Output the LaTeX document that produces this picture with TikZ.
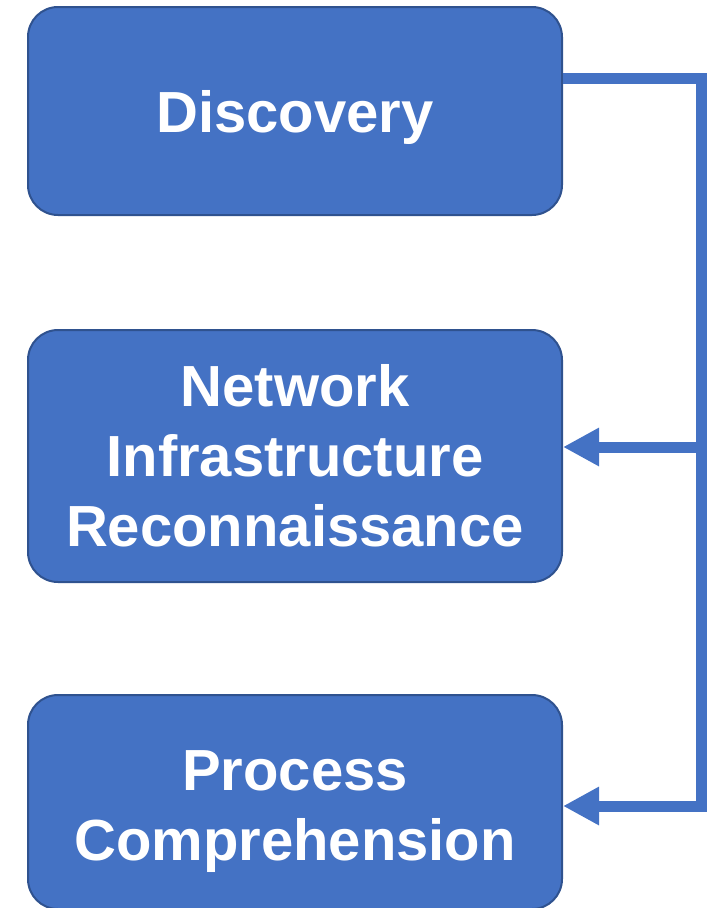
\documentclass[tikz,border=0pt]{standalone}
\usepackage{fontspec}
\setmainfont{Liberation Sans}
\usetikzlibrary{arrows.meta}
\definecolor{boxfill}{HTML}{4472C4}
\definecolor{boxedge}{HTML}{2F528F}
\tikzset{
  stage/.style={rectangle, rounded corners=30pt, fill=boxfill, draw=boxedge,
    line width=2pt, minimum width=534pt, inner sep=0pt, text width=520pt,
    align=center, text=white, font=\bfseries\fontsize{58}{70}\selectfont},
  link/.style={draw=boxfill, line width=11pt, line join=miter},
  tip/.style={-{Triangle[length=36pt,width=36pt]}}
}
\begin{document}
\begin{tikzpicture}[x=1pt,y=-1pt]
  \useasboundingbox (0,0) rectangle (713,908);
  \clip (0,0) rectangle (713,908);
  % the three stages
  \node[stage, minimum height=208pt, text depth=0pt] (disc) at (295,111) {Discovery};
  \node[stage, minimum height=252pt] (net) at (295,456) {Network\\Infrastructure\\Reconnaissance};
  \node[stage, minimum height=214pt, text depth=62pt] (proc) at (295,802) {Process\\Comprehension};
  % bus on the right feeding the lower stages
  \coordinate (top) at (701,78);
  \coordinate (mid) at (701,447);
  \coordinate (low) at (701,806);
  \draw[link, tip] (disc.east |- top) -- (top) -- (low) -- (proc.east |- low);
  \draw[link, tip] (mid) -- (net.east |- mid);
\end{tikzpicture}
\end{document}
